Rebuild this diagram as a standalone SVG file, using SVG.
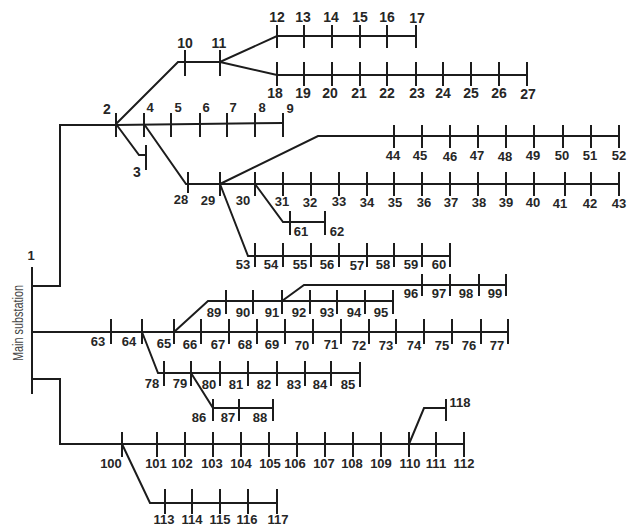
<svg xmlns="http://www.w3.org/2000/svg" width="633" height="527" viewBox="0 0 633 527">
<style>
line,path{stroke:#1c1c1c;stroke-width:2;fill:none}
text{font-family:"Liberation Sans",Arial,sans-serif;font-weight:bold;font-size:13px;fill:#262626;text-anchor:middle}
.t{font-size:14px}
.r{font-weight:normal;fill:#444;font-size:15px}
</style>
<rect width="633" height="527" fill="#fff"/>
<g id="connectors">
<path d="M32 286H60V125H116L283 123"/>
<path d="M116 124L178 62H220L277 36H416"/>
<path d="M220 62L277 75H527"/>
<path d="M116 124L139 155H146"/>
<path d="M144 124L186 184H619"/>
<path d="M220 184L318 136H619"/>
<path d="M255 184L283 222H325"/>
<path d="M220 184L248 256H450"/>
<path d="M32 332H508"/>
<path d="M174 332L208 301H393"/>
<path d="M282 301L304 285H506"/>
<path d="M142 332L158 373H360"/>
<path d="M191 373L213 408H273"/>
<path d="M32 379H60V444H464"/>
<path d="M409 444L424 408H446"/>
<path d="M122 444L150 503H277"/>
</g>
<g id="n1"><line x1="32" y1="267" x2="32" y2="394"/><text x="31" y="260">1</text><text class="r" transform="translate(23 323) rotate(-90)" textLength="76" lengthAdjust="spacingAndGlyphs">Main substation</text></g>
<g id="n2"><line x1="116" y1="113" x2="116" y2="137"/><text x="107" y="114" class="t">2</text></g>
<g id="n3"><line x1="146" y1="145" x2="146" y2="170"/><text x="137" y="177" class="t">3</text></g>
<g id="n4"><line x1="144" y1="113" x2="144" y2="137"/><text x="150" y="112">4</text></g>
<g id="n5"><line x1="171" y1="113" x2="171" y2="137"/><text x="178" y="112">5</text></g>
<g id="n6"><line x1="200" y1="113" x2="200" y2="137"/><text x="206" y="112">6</text></g>
<g id="n7"><line x1="227" y1="113" x2="227" y2="137"/><text x="233" y="112">7</text></g>
<g id="n8"><line x1="255" y1="113" x2="255" y2="137"/><text x="262" y="112">8</text></g>
<g id="n9"><line x1="283" y1="113" x2="283" y2="137"/><text x="290" y="113">9</text></g>
<g id="n10"><line x1="185" y1="50" x2="185" y2="76"/><text x="185" y="48" class="t">10</text></g>
<g id="n11"><line x1="220" y1="50" x2="220" y2="76"/><text x="219" y="48" class="t">11</text></g>
<g id="n12"><line x1="277" y1="25" x2="277" y2="48"/><text x="277" y="22" class="t">12</text></g>
<g id="n13"><line x1="304" y1="25" x2="304" y2="48"/><text x="303" y="22" class="t">13</text></g>
<g id="n14"><line x1="332" y1="25" x2="332" y2="48"/><text x="331" y="22" class="t">14</text></g>
<g id="n15"><line x1="360" y1="25" x2="360" y2="48"/><text x="360" y="22" class="t">15</text></g>
<g id="n16"><line x1="387" y1="25" x2="387" y2="48"/><text x="387" y="22" class="t">16</text></g>
<g id="n17"><line x1="416" y1="25" x2="416" y2="48"/><text x="417" y="23" class="t">17</text></g>
<g id="n18"><line x1="277" y1="62" x2="277" y2="86"/><text x="275" y="98" class="t">18</text></g>
<g id="n19"><line x1="304" y1="62" x2="304" y2="86"/><text x="303" y="98" class="t">19</text></g>
<g id="n20"><line x1="332" y1="62" x2="332" y2="86"/><text x="330" y="98" class="t">20</text></g>
<g id="n21"><line x1="360" y1="62" x2="360" y2="86"/><text x="359" y="98" class="t">21</text></g>
<g id="n22"><line x1="387" y1="62" x2="387" y2="86"/><text x="387" y="98" class="t">22</text></g>
<g id="n23"><line x1="416" y1="62" x2="416" y2="86"/><text x="417" y="98" class="t">23</text></g>
<g id="n24"><line x1="443" y1="62" x2="443" y2="86"/><text x="443" y="98" class="t">24</text></g>
<g id="n25"><line x1="471" y1="62" x2="471" y2="86"/><text x="471" y="98" class="t">25</text></g>
<g id="n26"><line x1="499" y1="62" x2="499" y2="86"/><text x="499" y="98" class="t">26</text></g>
<g id="n27"><line x1="527" y1="62" x2="527" y2="86"/><text x="528" y="99" class="t">27</text></g>
<g id="n28"><line x1="188" y1="172" x2="188" y2="193"/><text x="181" y="204">28</text></g>
<g id="n29"><line x1="220" y1="172" x2="220" y2="196"/><text x="208" y="205">29</text></g>
<g id="n30"><line x1="255" y1="172" x2="255" y2="196"/><text x="243" y="205">30</text></g>
<g id="n31"><line x1="283" y1="172" x2="283" y2="196"/><text x="282" y="206">31</text></g>
<g id="n32"><line x1="311" y1="172" x2="311" y2="196"/><text x="310" y="207">32</text></g>
<g id="n33"><line x1="339" y1="172" x2="339" y2="196"/><text x="339" y="206">33</text></g>
<g id="n34"><line x1="367" y1="172" x2="367" y2="196"/><text x="367" y="207">34</text></g>
<g id="n35"><line x1="394" y1="172" x2="394" y2="196"/><text x="395" y="207">35</text></g>
<g id="n36"><line x1="422" y1="172" x2="422" y2="196"/><text x="424" y="207">36</text></g>
<g id="n37"><line x1="450" y1="172" x2="450" y2="196"/><text x="451" y="207">37</text></g>
<g id="n38"><line x1="478" y1="172" x2="478" y2="196"/><text x="479" y="207">38</text></g>
<g id="n39"><line x1="506" y1="172" x2="506" y2="196"/><text x="506" y="207">39</text></g>
<g id="n40"><line x1="534" y1="172" x2="534" y2="196"/><text x="533" y="207">40</text></g>
<g id="n41"><line x1="565" y1="172" x2="565" y2="196"/><text x="560" y="208">41</text></g>
<g id="n42"><line x1="591" y1="172" x2="591" y2="196"/><text x="590" y="208">42</text></g>
<g id="n43"><line x1="619" y1="172" x2="619" y2="196"/><text x="619" y="208">43</text></g>
<g id="n44"><line x1="394" y1="125" x2="394" y2="148"/><text x="393" y="160">44</text></g>
<g id="n45"><line x1="422" y1="125" x2="422" y2="148"/><text x="420" y="160">45</text></g>
<g id="n46"><line x1="450" y1="125" x2="450" y2="148"/><text x="450" y="161">46</text></g>
<g id="n47"><line x1="478" y1="125" x2="478" y2="148"/><text x="477" y="160">47</text></g>
<g id="n48"><line x1="506" y1="125" x2="506" y2="148"/><text x="505" y="161">48</text></g>
<g id="n49"><line x1="534" y1="125" x2="534" y2="148"/><text x="533" y="160">49</text></g>
<g id="n50"><line x1="563" y1="125" x2="563" y2="148"/><text x="562" y="160">50</text></g>
<g id="n51"><line x1="591" y1="125" x2="591" y2="148"/><text x="590" y="160">51</text></g>
<g id="n52"><line x1="619" y1="125" x2="619" y2="148"/><text x="619" y="160">52</text></g>
<g id="n53"><line x1="255" y1="243" x2="255" y2="267"/><text x="243" y="269">53</text></g>
<g id="n54"><line x1="283" y1="243" x2="283" y2="267"/><text x="271" y="269">54</text></g>
<g id="n55"><line x1="311" y1="243" x2="311" y2="267"/><text x="300" y="269">55</text></g>
<g id="n56"><line x1="339" y1="243" x2="339" y2="267"/><text x="327" y="269">56</text></g>
<g id="n57"><line x1="367" y1="243" x2="367" y2="267"/><text x="357" y="270">57</text></g>
<g id="n58"><line x1="394" y1="243" x2="394" y2="267"/><text x="383" y="269">58</text></g>
<g id="n59"><line x1="422" y1="243" x2="422" y2="267"/><text x="411" y="269">59</text></g>
<g id="n60"><line x1="450" y1="243" x2="450" y2="267"/><text x="439" y="269">60</text></g>
<g id="n61"><line x1="290" y1="211" x2="290" y2="235"/><text x="301" y="236">61</text></g>
<g id="n62"><line x1="325" y1="211" x2="325" y2="235"/><text x="337" y="236">62</text></g>
<g id="n63"><line x1="111" y1="319" x2="111" y2="344"/><text x="98" y="346">63</text></g>
<g id="n64"><line x1="142" y1="319" x2="142" y2="344"/><text x="129" y="346">64</text></g>
<g id="n65"><line x1="174" y1="319" x2="174" y2="344"/><text x="164" y="348">65</text></g>
<g id="n66"><line x1="201" y1="319" x2="201" y2="344"/><text x="190" y="349">66</text></g>
<g id="n67"><line x1="229" y1="319" x2="229" y2="344"/><text x="218" y="349">67</text></g>
<g id="n68"><line x1="257" y1="319" x2="257" y2="344"/><text x="245" y="349">68</text></g>
<g id="n69"><line x1="285" y1="319" x2="285" y2="344"/><text x="272" y="349">69</text></g>
<g id="n70"><line x1="313" y1="319" x2="313" y2="344"/><text x="302" y="350">70</text></g>
<g id="n71"><line x1="341" y1="319" x2="341" y2="344"/><text x="331" y="349">71</text></g>
<g id="n72"><line x1="369" y1="319" x2="369" y2="344"/><text x="359" y="350">72</text></g>
<g id="n73"><line x1="396" y1="319" x2="396" y2="344"/><text x="386" y="350">73</text></g>
<g id="n74"><line x1="424" y1="319" x2="424" y2="344"/><text x="414" y="350">74</text></g>
<g id="n75"><line x1="452" y1="319" x2="452" y2="344"/><text x="442" y="350">75</text></g>
<g id="n76"><line x1="481" y1="319" x2="481" y2="344"/><text x="469" y="350">76</text></g>
<g id="n77"><line x1="508" y1="319" x2="508" y2="344"/><text x="497" y="350">77</text></g>
<g id="n78"><line x1="164" y1="361" x2="164" y2="386"/><text x="152" y="388">78</text></g>
<g id="n79"><line x1="191" y1="361" x2="191" y2="386"/><text x="180" y="388">79</text></g>
<g id="n80"><line x1="220" y1="361" x2="220" y2="386"/><text x="209" y="389">80</text></g>
<g id="n81"><line x1="248" y1="361" x2="248" y2="386"/><text x="236" y="389">81</text></g>
<g id="n82"><line x1="277" y1="361" x2="277" y2="386"/><text x="264" y="389">82</text></g>
<g id="n83"><line x1="305" y1="361" x2="305" y2="386"/><text x="294" y="389">83</text></g>
<g id="n84"><line x1="331" y1="361" x2="331" y2="386"/><text x="320" y="389">84</text></g>
<g id="n85"><line x1="360" y1="362" x2="360" y2="387"/><text x="348" y="389">85</text></g>
<g id="n86"><line x1="213" y1="399" x2="213" y2="421"/><text x="199" y="422">86</text></g>
<g id="n87"><line x1="239" y1="399" x2="239" y2="421"/><text x="228" y="422">87</text></g>
<g id="n88"><line x1="273" y1="399" x2="273" y2="421"/><text x="260" y="422">88</text></g>
<g id="n89"><line x1="226" y1="290" x2="226" y2="314"/><text x="214" y="317">89</text></g>
<g id="n90"><line x1="253" y1="290" x2="253" y2="314"/><text x="243" y="317">90</text></g>
<g id="n91"><line x1="282" y1="290" x2="282" y2="314"/><text x="272" y="317">91</text></g>
<g id="n92"><line x1="310" y1="290" x2="310" y2="314"/><text x="299" y="317">92</text></g>
<g id="n93"><line x1="337" y1="290" x2="337" y2="314"/><text x="327" y="317">93</text></g>
<g id="n94"><line x1="365" y1="290" x2="365" y2="314"/><text x="354" y="317">94</text></g>
<g id="n95"><line x1="393" y1="290" x2="393" y2="314"/><text x="381" y="317">95</text></g>
<g id="n96"><line x1="422" y1="274" x2="422" y2="296"/><text x="411" y="298">96</text></g>
<g id="n97"><line x1="450" y1="274" x2="450" y2="296"/><text x="439" y="298">97</text></g>
<g id="n98"><line x1="479" y1="274" x2="479" y2="296"/><text x="466" y="298">98</text></g>
<g id="n99"><line x1="506" y1="274" x2="506" y2="296"/><text x="495" y="298">99</text></g>
<g id="n100"><line x1="122" y1="432" x2="122" y2="457"/><text x="111" y="468">100</text></g>
<g id="n101"><line x1="157" y1="432" x2="157" y2="457"/><text x="156" y="468">101</text></g>
<g id="n102"><line x1="185" y1="432" x2="185" y2="457"/><text x="182" y="468">102</text></g>
<g id="n103"><line x1="213" y1="432" x2="213" y2="457"/><text x="212" y="468">103</text></g>
<g id="n104"><line x1="241" y1="432" x2="241" y2="457"/><text x="241" y="468">104</text></g>
<g id="n105"><line x1="269" y1="432" x2="269" y2="457"/><text x="270" y="468">105</text></g>
<g id="n106"><line x1="297" y1="432" x2="297" y2="457"/><text x="295" y="468">106</text></g>
<g id="n107"><line x1="325" y1="432" x2="325" y2="457"/><text x="324" y="468">107</text></g>
<g id="n108"><line x1="353" y1="432" x2="353" y2="457"/><text x="352" y="468">108</text></g>
<g id="n109"><line x1="381" y1="432" x2="381" y2="457"/><text x="381" y="468">109</text></g>
<g id="n110"><line x1="409" y1="432" x2="409" y2="457"/><text x="410" y="468">110</text></g>
<g id="n111"><line x1="436" y1="432" x2="436" y2="457"/><text x="436" y="468">111</text></g>
<g id="n112"><line x1="464" y1="432" x2="464" y2="457"/><text x="464" y="468">112</text></g>
<g id="n113"><line x1="165" y1="489" x2="165" y2="514"/><text x="164" y="524">113</text></g>
<g id="n114"><line x1="192" y1="489" x2="192" y2="514"/><text x="192" y="524">114</text></g>
<g id="n115"><line x1="220" y1="489" x2="220" y2="514"/><text x="220" y="524">115</text></g>
<g id="n116"><line x1="248" y1="489" x2="248" y2="514"/><text x="247" y="524">116</text></g>
<g id="n117"><line x1="277" y1="489" x2="277" y2="514"/><text x="278" y="524">117</text></g>
<g id="n118"><line x1="446" y1="399" x2="446" y2="421"/><text x="460" y="407">118</text></g>
</svg>
